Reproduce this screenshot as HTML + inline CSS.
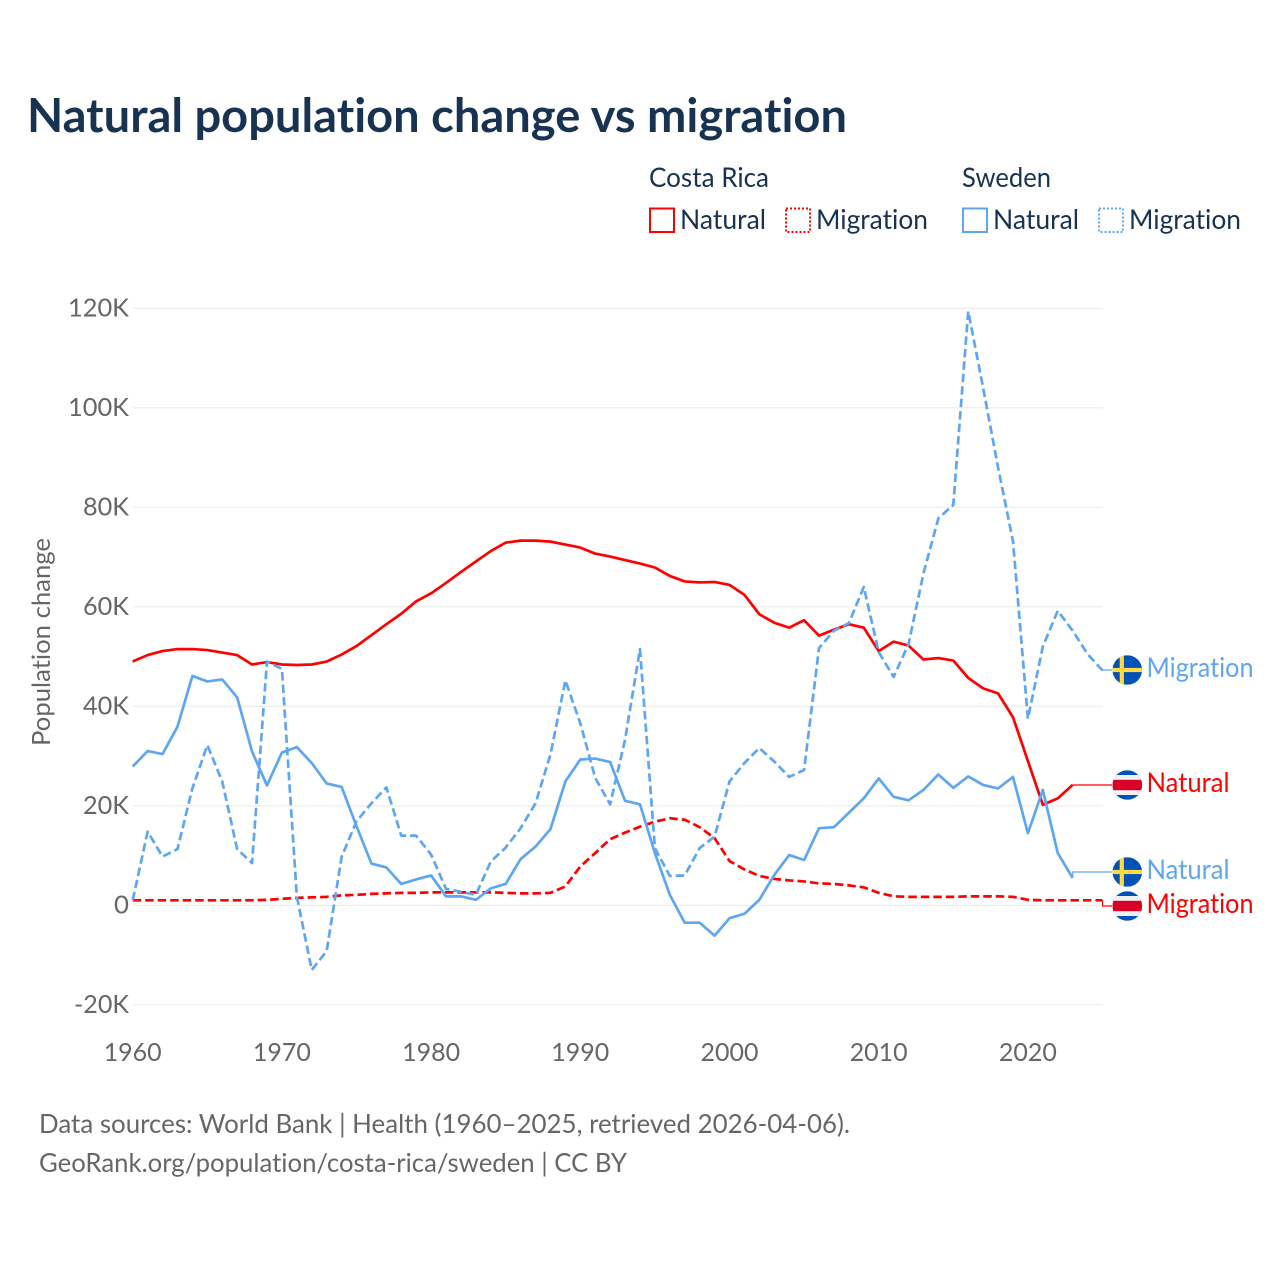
<!DOCTYPE html>
<html lang="en">
<head>
<meta charset="utf-8">
<title>Natural population change vs migration</title>
<style>
html,body{margin:0;padding:0;background:#fff;width:1280px;height:1280px;overflow:hidden}
svg{display:block}
text{font-family:"Lato","Liberation Sans",sans-serif;font-variant-ligatures:none;font-feature-settings:"liga" 0}
</style>
</head>
<body>
<svg id="chart" xmlns="http://www.w3.org/2000/svg" width="1280" height="1280" viewBox="0 0 1280 1280">
  <rect width="1280" height="1280" fill="#fff"/>
  <text x="27" y="132" font-size="47" font-weight="700" fill="#183252" textLength="820" lengthAdjust="spacingAndGlyphs">Natural population change vs migration</text>

  <g fill="#183252" font-size="27">
    <text x="649" y="187" textLength="120" lengthAdjust="spacingAndGlyphs">Costa Rica</text>
    <text x="962" y="187" textLength="89" lengthAdjust="spacingAndGlyphs">Sweden</text>
    <rect x="650" y="208.500" width="24" height="23.500" fill="none" stroke="#ff0000" stroke-width="2"/>
    <text x="680" y="229" textLength="86" lengthAdjust="spacingAndGlyphs">Natural</text>
    <rect x="786" y="208.500" width="24" height="23.500" fill="none" stroke="#ff0000" stroke-width="2" stroke-dasharray="2 2"/>
    <text x="816" y="229" textLength="112" lengthAdjust="spacingAndGlyphs">Migration</text>
    <rect x="963" y="208.500" width="24" height="23.500" fill="none" stroke="#5fa6f0" stroke-width="2"/>
    <text x="993" y="229" textLength="86" lengthAdjust="spacingAndGlyphs">Natural</text>
    <rect x="1099" y="208.500" width="24" height="23.500" fill="none" stroke="#5fa6f0" stroke-width="2" stroke-dasharray="2 2"/>
    <text x="1129" y="229" textLength="112" lengthAdjust="spacingAndGlyphs">Migration</text>
  </g>

  <g id="grid"></g>
  <g id="yticks" fill="#666" font-size="25"></g>
  <g id="xticks" fill="#666" font-size="25"></g>
  <text transform="translate(50 642) rotate(-90)" text-anchor="middle" fill="#666" font-size="25" textLength="208" lengthAdjust="spacingAndGlyphs">Population change</text>

  <g id="series"></g>
  <g id="labels"></g>

  <text x="39" y="1133" fill="#666" font-size="26" textLength="811" lengthAdjust="spacingAndGlyphs">Data sources: World Bank | Health (1960–2025, retrieved 2026-04-06).</text>
  <text x="39" y="1172" fill="#666" font-size="26" textLength="588" lengthAdjust="spacingAndGlyphs">GeoRank.org/population/costa-rica/sweden | CC BY</text>
</svg>
<script>
const startYear = 1960;
const xTickYears = [1960, 1970, 1980, 1990, 2000, 2010, 2020];
const yTickValues = [-20, 0, 20, 40, 60, 80, 100, 120];
const yTickLabels = ["-20K", "0", "20K", "40K", "60K", "80K", "100K", "120K"];

const costaRicaNatural = [
  49.0,50.3,51.1,51.5,51.5,51.3,50.8,50.3,48.4,48.9,
  48.4,48.3,48.4,49.0,50.4,52.1,54.3,56.5,58.6,61.1,
  62.7,64.8,67.0,69.1,71.2,72.9,73.3,73.3,73.1,72.5,
  71.9,70.7,70.1,69.4,68.7,67.9,66.2,65.1,64.9,65.0,
  64.4,62.4,58.5,56.8,55.8,57.3,54.2,55.4,56.5,55.8,
  51.1,53.0,52.2,49.4,49.7,49.2,45.7,43.6,42.6,37.8,
  29.0,20.2,21.5,24.2];
const costaRicaMigration = [
  1.0,1.0,1.0,1.0,1.0,1.0,1.0,1.0,1.0,1.1,
  1.3,1.5,1.6,1.7,2.0,2.1,2.3,2.4,2.5,2.5,
  2.6,2.6,2.6,2.6,2.6,2.5,2.4,2.4,2.5,3.8,
  7.8,10.5,13.3,14.6,15.8,16.8,17.5,17.2,15.7,13.5,
  8.9,7.2,5.9,5.3,5.0,4.8,4.4,4.3,4.0,3.6,
  2.5,1.8,1.7,1.7,1.7,1.7,1.8,1.8,1.8,1.7,
  1.1,1.0,1.0,1.0,1.0,1.0];
const swedenNatural = [
  27.9,31.0,30.4,35.9,46.1,45.0,45.4,41.8,30.9,24.1,
  30.7,31.8,28.6,24.5,23.8,15.9,8.4,7.6,4.3,5.2,
  6.0,1.8,1.8,1.1,3.4,4.3,9.3,11.8,15.3,24.9,
  29.3,29.5,28.8,21.0,20.3,10.5,2.1,-3.5,-3.5,-6.1,
  -2.6,-1.7,1.1,6.1,10.1,9.1,15.5,15.7,18.6,21.5,
  25.5,21.8,21.1,23.2,26.3,23.6,25.9,24.2,23.5,25.8,
  14.5,23.2,10.5,5.5];
const swedenMigration = [
  1.0,14.8,9.8,11.3,23.5,32.2,24.9,11.3,8.5,49.0,
  47.5,1.8,-13.0,-9.2,9.7,16.9,20.5,23.7,14.0,14.0,
  10.2,3.3,2.7,2.1,8.8,11.6,15.5,20.5,30.3,45.2,
  36.6,25.6,20.3,33.3,51.5,11.5,5.9,6.0,11.5,13.8,
  24.9,28.6,31.6,28.9,25.8,27.2,51.7,55.2,56.7,64.0,
  50.9,45.9,52.5,66.7,77.8,80.5,119.4,104.0,88.0,73.2,
  37.5,52.0,59.2,55.2,50.5,47.2];

const NS = "http://www.w3.org/2000/svg";
const RED = "#ff0000", BLUE = "#5fa6f0";
const plotLeft = 133, plotRight = 1102.7, leaderEnd = 1112;
function xScale(year){ return 132.7 + (year - 1960) * 14.92; }
function yScale(v){ return 905.3 - v * 4.975; }
function make(tag, attrs, parent){
  const el = document.createElementNS(NS, tag);
  for (const k in attrs) el.setAttribute(k, attrs[k]);
  parent.appendChild(el);
  return el;
}
const gridG = document.getElementById("grid");
const yG = document.getElementById("yticks");
const xG = document.getElementById("xticks");
const seriesG = document.getElementById("series");
const labelsG = document.getElementById("labels");

yTickValues.forEach(function(v, i){
  const y = yScale(v);
  const line = make("line", {x1: plotLeft, x2: plotRight, y1: y, y2: y, stroke: "#ebebeb", "stroke-width": 1.2}, gridG);
  
  
  const label = yTickLabels[i];
  const digits = label.replace(/[^0-9]/g, "").length;
  const width = digits * 15 + (label.includes("K") ? 16 : 0) + (label.includes("-") ? 9 : 0);
  const t = make("text", {x: 129, y: y + 8, "text-anchor": "end", textLength: width, lengthAdjust: "spacingAndGlyphs"}, yG);
  
  
  t.textContent = label;
});
xTickYears.forEach(function(year){
  const t = make("text", {x: xScale(year), y: 1061, "text-anchor": "middle", textLength: 58, lengthAdjust: "spacingAndGlyphs"}, xG);
  
  
  t.textContent = String(year);
});

function drawSeries(values, color, dashed){
  const d = values.map(function(v, i){
    return (i ? "L" : "M") + xScale(startYear + i).toFixed(2) + " " + yScale(v).toFixed(2);
  }).join(" ");
  const attrs = {d: d, fill: "none", stroke: color, "stroke-width": 2.7, "stroke-linejoin": "round"};
  if (dashed) attrs["stroke-dasharray"] = "8.5 4";
  return make("path", attrs, seriesG);
}
const crNatPath = drawSeries(costaRicaNatural, RED, false);


const crMigPath = drawSeries(costaRicaMigration, RED, true);


const swNatPath = drawSeries(swedenNatural, BLUE, false);


const swMigPath = drawSeries(swedenMigration, BLUE, true);



function drawLeader(values, labelY, color){
  const ex = xScale(startYear + values.length - 1), ey = yScale(values[values.length - 1]);
  return make("path", {d: "M" + ex + " " + ey + " L" + ex + " " + labelY + " L" + leaderEnd + " " + labelY, fill: "none", stroke: color, "stroke-width": 1.2}, labelsG);
}
let clipCount = 0;
function drawFlag(kind, cy){
  const cx = 1127.3, r = 14.8;
  const g = make("g", {}, labelsG);
  
  
  const id = "flag-clip-" + (clipCount++);
  const cp = make("clipPath", {id: id}, g);
  make("circle", {cx: cx, cy: cy, r: r}, cp);
  const inner = make("g", {"clip-path": "url(#" + id + ")"}, g);
  make("rect", {x: cx - r, y: cy - r, width: 2 * r, height: 2 * r, fill: "#0052b4"}, inner);
  if (kind === "se") {
    make("rect", {x: cx - 7.6, y: cy - r, width: 4.2, height: 2 * r, fill: "#ffda44"}, inner);
    make("rect", {x: cx - r, y: cy - 2.1, width: 2 * r, height: 4.2, fill: "#ffda44"}, inner);
  } else {
    make("rect", {x: cx - r, y: cy - 10, width: 2 * r, height: 20, fill: "#f0f0f0"}, inner);
    make("rect", {x: cx - r, y: cy - 5.2, width: 2 * r, height: 10.4, fill: "#d80027"}, inner);
  }
}
function drawEndLabel(text, flag, labelY, color, width, name){
  drawFlag(flag, labelY);
  const t = make("text", {x: 1146.5, y: labelY + 7, fill: color, "font-size": 27, textLength: width, lengthAdjust: "spacingAndGlyphs"}, labelsG);
  
  
  t.textContent = text;
}
const leaderA = drawLeader(swedenMigration, 670, BLUE);


const leaderB = drawLeader(costaRicaNatural, 785, RED);


const leaderC = drawLeader(swedenNatural, 872, BLUE);


const leaderD = drawLeader(costaRicaMigration, 906, RED);



drawEndLabel("Migration", "se", 670, BLUE, 107, "end-label-sweden-migration");
drawEndLabel("Natural", "cr", 785, RED, 83, "end-label-costa-rica-natural");
drawEndLabel("Natural", "se", 872, BLUE, 83, "end-label-sweden-natural");
drawEndLabel("Migration", "cr", 906, RED, 107, "end-label-costa-rica-migration");
</script>
</body>
</html>
